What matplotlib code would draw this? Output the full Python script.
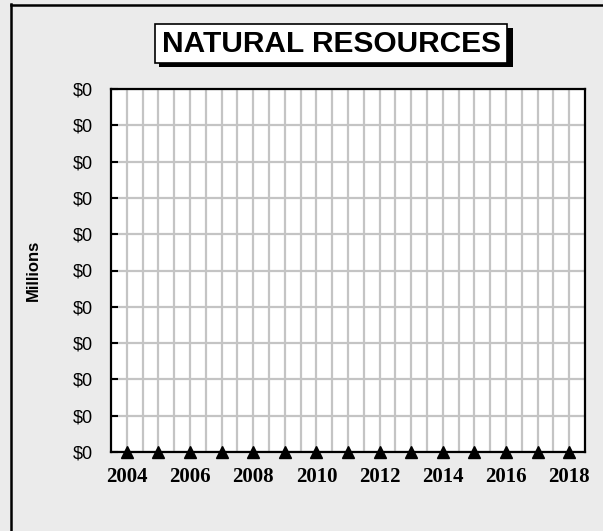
import matplotlib
matplotlib.use("Agg")
import matplotlib.pyplot as plt
from matplotlib.patches import Rectangle
from matplotlib.lines import Line2D
import numpy as np

# data (all values zero in the source chart), in dollars
years = [2004, 2005, 2006, 2007, 2008, 2009, 2010, 2011, 2012, 2013, 2014, 2015, 2016, 2017, 2018]
values = [0, 0, 0, 0, 0, 0, 0, 0, 0, 0, 0, 0, 0, 0, 0]
year_labels = [2004, 2006, 2008, 2010, 2012, 2014, 2016, 2018]
y_ticks = [0, 100, 200, 300, 400, 500, 600, 700, 800, 900, 1000]

title = "NATURAL RESOURCES"
ylabel = "Millions"

W, H = 603, 531
bg = "#EBEBEB"

fig = plt.figure(figsize=(W / 100, H / 100), dpi=100, facecolor=bg)

def fx(px):
    return px / W

def fy(py):
    return 1 - py / H

# outer frame (left and top edges visible)
fig.add_artist(Line2D([fx(11), fx(11)], [fy(4), 0], color="black", lw=1.8))
fig.add_artist(Line2D([fx(11), 1], [fy(5), fy(5)], color="black", lw=1.8))

ax = fig.add_axes([fx(111), fy(452), fx(585) - fx(111), fy(89) - fy(452)])
ax.set_facecolor("white")

ax.plot(years, values, linestyle="none", marker="^", color="black",
        markersize=9, clip_on=False, zorder=5)

ax.set_xlim(2003.5, 2018.5)
ax.set_ylim(0, 1000)

ax.set_xticks(np.arange(2004, 2018.01, 0.5), minor=True)
ax.set_xticks(year_labels)
ax.set_xticklabels([str(y) for y in year_labels], fontfamily="Liberation Serif",
                   fontweight="bold", fontsize=15)
ax.tick_params(axis="x", which="both", length=0, pad=11)

# axis labelled in millions of dollars
ax.set_yticks(y_ticks)
ax.set_yticklabels(["${:.0f}".format(v / 1e6) for v in y_ticks],
                   fontfamily="Liberation Sans", fontsize=13)
ax.tick_params(axis="y", direction="in", length=5, width=1.5, pad=13)

ax.grid(True, axis="x", which="both", color="#C4C4C4", lw=1.6)
ax.grid(True, axis="y", which="major", color="#C4C4C4", lw=1.6)
ax.set_axisbelow(True)

for s in ax.spines.values():
    s.set_linewidth(1.6)
    s.set_color("black")

fig.text(fx(33), fy(270), ylabel, rotation=90, ha="center", va="center",
         fontfamily="Liberation Sans", fontweight="bold", fontsize=12)

# title box with drop shadow
fig.add_artist(Rectangle((fx(159), fy(67)), fx(513) - fx(159), fy(28) - fy(67),
                         transform=fig.transFigure, facecolor="black", edgecolor="none"))
fig.add_artist(Rectangle((fx(155), fy(63)), fx(507) - fx(155), fy(24) - fy(63),
                         transform=fig.transFigure, facecolor="white",
                         edgecolor="black", lw=1.2))
fig.text(fx(331), fy(44), title, ha="center", va="center",
         fontfamily="Liberation Sans", fontweight="bold", fontsize=21.5)

fig.savefig("out.png", dpi=100, facecolor=bg)
